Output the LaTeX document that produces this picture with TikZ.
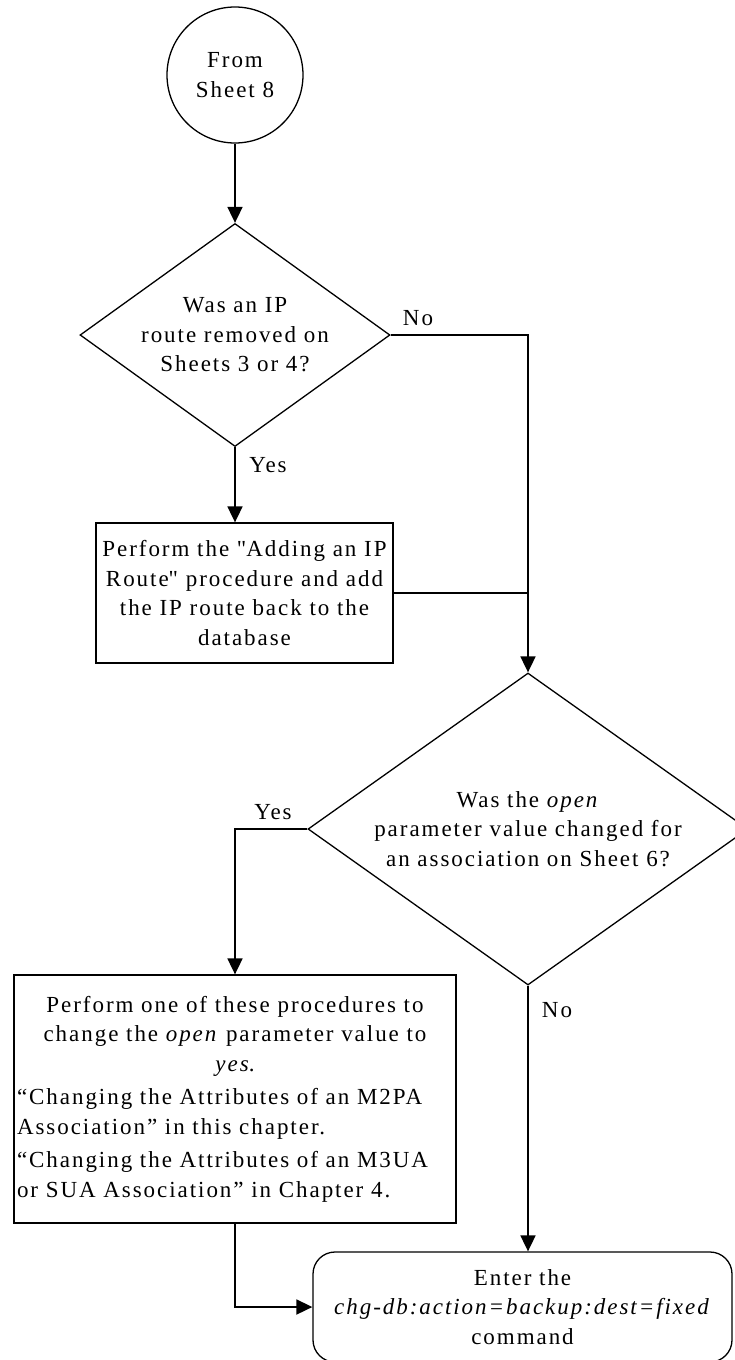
\documentclass[tikz,border=0pt]{standalone}
\usepackage{fontspec}
\setmainfont{Liberation Serif}[LetterSpace=8.5]
\newfontfamily\qfont{Liberation Serif}[LetterSpace=8.5]
\newcommand{\sq}{{\qfont\symbol{"22}}}
\usetikzlibrary{shapes.geometric,arrows.meta}
\begin{document}
\begin{tikzpicture}[x=1pt,y=-1pt,
  txt/.style={font=\fontsize{23}{29.5}\selectfont},
  shapeline/.style={txt, draw, line width=1.3pt},
  startc/.style={shapeline, circle, minimum size=136pt, inner sep=0pt, align=center},
  decision/.style={shapeline, diamond, inner sep=-8pt, align=center},
  procbox/.style={shapeline, rectangle, inner sep=0pt, align=center},
  termbox/.style={shapeline, rectangle, rounded corners=22pt, inner sep=0pt, align=center},
  conn/.style={line width=1.8pt, -{Triangle[length=16pt,width=15pt]}},
  link/.style={line width=1.8pt},
  lbl/.style={txt, inner sep=0pt}
]
\useasboundingbox (0,0) rectangle (735,1360);

\node[startc] (start) at (235,75) {From\\Sheet 8};
\node[decision, minimum width=310pt, minimum height=223pt, aspect=1.39] (d1) at (235,335)
  {Was an IP\\route removed on\\Sheets 3 or 4?};
\node[procbox, minimum width=297pt, minimum height=140pt] (b1) at (244.5,593)
  {Perform the \sq Adding an IP\\Route\sq{} procedure and add\\the IP route back to the\\database};
\node[decision, minimum width=440pt, minimum height=312pt, aspect=1.41] (d2) at (528,829)
  {Was the \textit{open}\\parameter value changed for\\an association on Sheet 6?};
\node[procbox, minimum width=442pt, minimum height=248pt, text width=436pt, align=left] (b2) at (235,1099)
  {{\centering Perform one of these procedures to\\ change the \textit{open} parameter value to\\ \textit{yes}.\par}\vspace{4pt}
   “Changing the Attributes of an M2PA\\ Association” in this chapter.\par\vspace{4pt}
   “Changing the Attributes of an M3UA\\ or SUA Association” in Chapter 4.};
\node[termbox, minimum width=419pt, minimum height=110pt] (rb) at (522.5,1307)
  {Enter the\\\textit{chg-db:action=backup:dest=fixed}\\command};

\node[lbl] (no1) at (418,318) {No};
\node[lbl] (yes1) at (268,465) {Yes};
\node[lbl] (yes2) at (273,812) {Yes};
\node[lbl] (no2) at (557,1010) {No};

\draw[conn] (start.south) -- (d1.north);
\draw[conn] (d1.east) -| (d2.north);
\draw[conn] (d1.south) -- (d1.south |- b1.north);
\draw[link] (b1.east) -- (b1.east -| d2.north);
\draw[conn] (d2.west) -| (b2.north);
\draw[conn] (d2.south) -- (d2.south |- rb.north);
\draw[conn] (b2.south) |- (rb.west);
\end{tikzpicture}
\end{document}
